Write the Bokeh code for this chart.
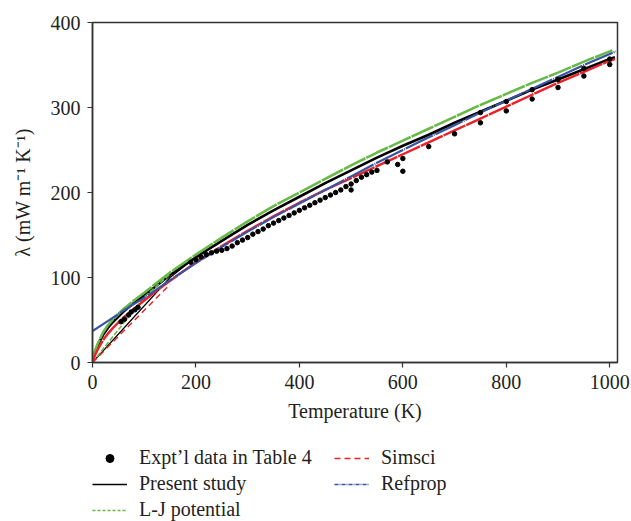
from bokeh.plotting import figure
from bokeh.layouts import column
from bokeh.models import Legend, LegendItem, Range1d, FixedTicker
from bokeh.embed import file_html
from bokeh.resources import INLINE

# ---------------- data ----------------
# Present study (black solid)
T_present = [0, 5, 10, 20, 30, 40, 60, 80, 100, 125, 150, 200, 250, 300, 350, 400,
             450, 500, 550, 600, 650, 700, 750, 800, 850, 900, 950, 1000, 1010]
lam_present = [0, 13, 20, 32, 41, 48, 60, 70, 79, 91, 103, 124, 143, 162, 179, 195,
               211, 226, 241, 255, 268, 282, 295, 308, 321, 333, 345, 357, 359]
# coarse-grid segment of the present study
T_present_c = [0, 150, 200]
lam_present_c = [0, 100, 124]

# L-J potential (green dashed)
T_lj = [0, 5, 10, 20, 30, 40, 60, 80, 100, 125, 150, 200, 250, 300, 350, 400,
        450, 500, 550, 600, 650, 700, 750, 800, 850, 900, 950, 1000, 1005]
lam_lj = [0, 14, 22, 35, 44, 51, 63, 73, 82, 94, 106, 127, 147, 166, 184, 200,
          216, 232, 247, 261, 275, 289, 303, 316, 329, 341, 354, 366, 367]
T_lj_c = [0, 100, 150]
lam_lj_c = [0, 77, 104]

# Simsci (red dashed)
T_sim = [0, 5, 10, 20, 30, 40, 60, 80, 100, 125, 150, 200, 250, 300, 350, 400,
         450, 500, 550, 600, 650, 700, 750, 800, 850, 900, 950, 1000, 1010]
lam_sim = [0, 9, 15, 26, 34, 41, 53, 63, 73, 85, 96, 118, 137, 155, 172, 188,
           203, 217, 231, 245, 259, 273, 287, 301, 315, 329, 342, 355, 357]
T_sim_c = [0, 150]
lam_sim_c = [0, 92]

# Refprop (blue dash-dot)
T_ref = [0, 25, 50, 75, 100, 150, 200, 250, 300, 350, 400, 450, 500, 550, 600,
         650, 700, 750, 800, 850, 900, 950, 1000, 1012]
lam_ref = [37, 47, 57, 67, 76, 97, 117, 136, 154, 171, 187, 203, 219, 235, 250,
           265, 279, 294, 308, 322, 336, 350, 363, 366]

# Experimental data in Table 4 (black dots)
T_exp = [55, 62, 70, 75, 82, 88,
         190, 200, 210, 220, 230, 240, 250,
         260, 270, 280, 290, 300, 310, 320, 330, 340, 350, 360, 370, 380, 390,
         400, 410, 420, 430, 440, 450, 460, 470, 480, 490, 500, 510, 520, 530,
         540, 550, 570, 590, 600, 600, 500,
         650, 700, 750, 800, 850, 900, 950, 1000,
         750, 800, 850, 900, 950, 1000]
lam_exp = [48, 51, 56, 59.5, 62, 65,
           118, 121, 124, 127, 129, 131, 132,
           134, 137, 141, 144, 147, 151, 154, 157, 161, 164, 167, 170, 173, 176,
           179, 182, 185, 188, 191, 194, 197, 200, 203, 207, 210, 214, 218, 221,
           224, 226, 236, 233, 240, 225, 203,
           254, 269, 282, 296, 310, 323.5, 337, 350.6,
           294, 307, 321, 333, 346, 357]

x_ticks = [0, 200, 400, 600, 800, 1000]
y_ticks = [0, 100, 200, 300, 400]

# ---------------- figure ----------------
FONT = "Liberation Serif"
GREEN = "#68b947"
RED = "#ec2027"
BLUE = "#3953a4"
TXT = "#231f20"

p = figure(width=631, height=440, output_backend="svg", toolbar_location=None,
           x_range=Range1d(0, 1015), y_range=Range1d(0, 400),
           min_border_left=92, min_border_right=14, min_border_top=22,
           min_border_bottom=78)
p.xgrid.visible = False
p.ygrid.visible = False
p.outline_line_color = "#333333"
p.outline_line_width = 1.5
p.background_fill_color = "white"
p.border_fill_color = "white"

for ax in (p.xaxis[0], p.yaxis[0]):
    ax.major_tick_in = 0
    ax.major_tick_out = 5
    ax.minor_tick_line_color = None
    ax.axis_line_color = "#333333"
    ax.axis_line_width = 1.5
    ax.major_tick_line_color = "#333333"
    ax.major_tick_line_width = 1.2
    ax.major_label_text_font = FONT
    ax.major_label_text_font_size = "20px"
    ax.major_label_text_color = TXT
    ax.axis_label_text_font = FONT
    ax.axis_label_text_font_size = "20px"
    ax.axis_label_text_font_style = "normal"
    ax.axis_label_text_color = TXT
    ax.major_label_standoff = 7

p.xaxis.ticker = FixedTicker(ticks=x_ticks)
p.yaxis.ticker = FixedTicker(ticks=y_ticks)
p.xaxis.axis_label = "Temperature (K)"
p.yaxis.axis_label = "\u03bb (mW m\u207b\u00b9 K\u207b\u00b9)"
p.xaxis.axis_label_standoff = 8
p.yaxis.axis_label_standoff = 14

# ---------------- curves ----------------
p.line(T_present_c, lam_present_c, line_color="black", line_width=1.2)
p.line(T_present, lam_present, line_color="black", line_width=2.6)
p.line(T_lj_c, lam_lj_c, line_color=GREEN, line_width=1.6, line_dash="5 2")
p.line(T_lj, lam_lj, line_color=GREEN, line_width=2.6, line_dash="24 1")
p.line(T_sim_c, lam_sim_c, line_color=RED, line_width=1.4, line_dash="6 4")
p.line(T_sim, lam_sim, line_color=RED, line_width=2.4, line_dash="24 1")
p.line(T_ref, lam_ref, line_color=BLUE, line_width=2.2, line_dash="30 1 1 1")
p.scatter(T_exp, lam_exp, size=4.5, color="black", marker="circle")

# ---------------- legend (separate strip below the plot) ----------------
# the legend strip shows the same series, but its ranges keep them off-screen,
# so only the legend glyphs (thin styles as in the reference) are visible
lg = figure(width=631, height=81, output_backend="svg", toolbar_location=None,
            x_range=Range1d(-3000, -2000), y_range=Range1d(-3000, -2000),
            x_axis_type=None, y_axis_type=None,
            min_border_left=0, min_border_right=0, min_border_top=0,
            min_border_bottom=0)
lg.outline_line_color = None
lg.xgrid.visible = False
lg.ygrid.visible = False
lg.background_fill_color = "white"
lg.border_fill_color = "white"

r_exp = lg.scatter(T_exp, lam_exp, size=5, color="black", marker="circle")
r_pre = lg.line(T_present, lam_present, line_color="black", line_width=1.3)
r_lj = lg.line(T_lj, lam_lj, line_color=GREEN, line_width=1.3, line_dash="3 2")
r_sim = lg.line(T_sim, lam_sim, line_color=RED, line_width=1.5, line_dash="6 4")
r_ref = lg.line(T_ref, lam_ref, line_color=BLUE, line_width=1.3, line_dash="4 1 1 1")

legend = Legend(items=[
    LegendItem(label="Expt\u2019l data in Table 4", renderers=[r_exp]),
    LegendItem(label="Present study", renderers=[r_pre]),
    LegendItem(label="L-J potential", renderers=[r_lj]),
    LegendItem(label="Simsci", renderers=[r_sim]),
    LegendItem(label="Refprop", renderers=[r_ref]),
], location=(0, 0), nrows=3, orientation="vertical")
legend.label_text_font = FONT
legend.label_text_font_size = "20px"
legend.label_text_color = TXT
legend.glyph_width = 35
legend.glyph_height = 20
legend.label_height = 20
legend.label_standoff = 12
legend.label_width = 192
legend.spacing = 3
legend.padding = 0
legend.margin = 0
legend.border_line_color = None
legend.background_fill_alpha = 0
lg.add_layout(legend, "center")

layout = column(p, lg, spacing=0)
open("out.html", "w").write(file_html(layout, INLINE))
